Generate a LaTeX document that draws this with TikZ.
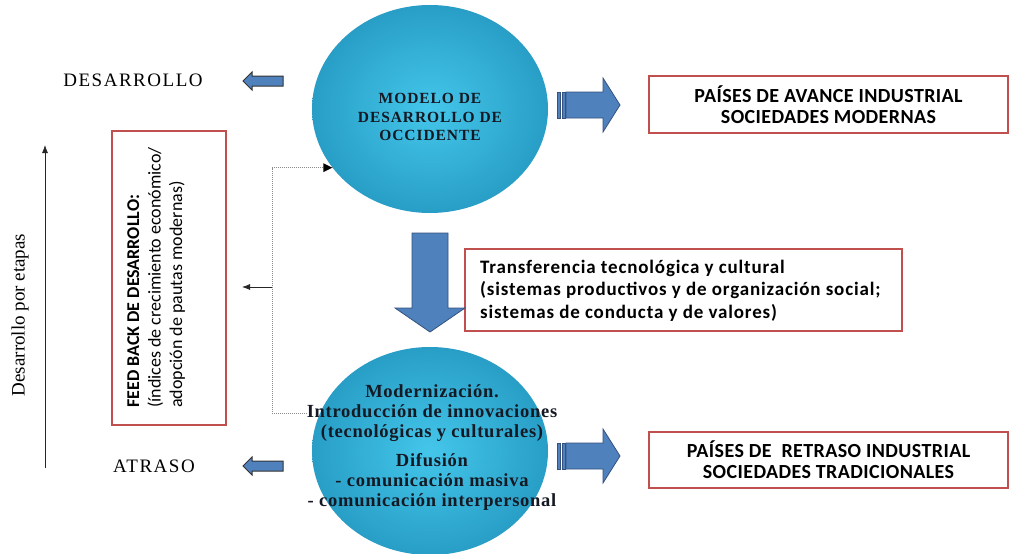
\documentclass[tikz,border=0pt]{standalone}
\usepackage{fontspec}
\setmainfont{Liberation Serif}
\newfontfamily\calfont{Carlito}
\usetikzlibrary{shapes.geometric,arrows.meta}
\definecolor{cyanA}{RGB}{68,198,234}
\definecolor{cyanB}{RGB}{40,158,198}
\definecolor{boxred}{RGB}{192,80,77}
\definecolor{blueA}{RGB}{79,129,189}
\definecolor{blueB}{RGB}{52,82,125}
\definecolor{txtdark}{RGB}{20,25,35}
\begin{document}
\begin{tikzpicture}[x=1pt,y=-1pt,
  bubble/.style={ellipse, minimum width=236pt, minimum height=208pt, inner sep=0pt,
    inner color=cyanA, outer color=cyanB},
  redframe/.style={draw=boxred, line width=2.6pt, fill=white, inner sep=0pt},
  blockarrow/.style={fill=blueA, draw=blueB, line width=0.8pt, line join=miter},
  smallarrow/.style={fill=blueA, draw=black!80, line width=1pt, line join=miter},
  circtxt/.style={align=center, inner sep=0pt, text=txtdark},
  lbl/.style={inner sep=0pt, font=\fontsize{19}{22}\selectfont\addfontfeature{LetterSpace=8}},
  dotline/.style={draw=black!45, line width=0.6pt, dash pattern=on 1pt off 1pt},
  thinarrow/.style={draw=black!85, line width=0.8pt, -{Latex[length=8pt,width=6pt]}}
]
\useasboundingbox (0,0) rectangle (1013,554);
\fill[white] (0,0) rectangle (1013,554);

% feedback connector (under circles)
\coordinate (fbstart) at (307,413);
\coordinate (fbmid) at (272,287);
\coordinate (fbout) at (242,287);

% circles
\node[bubble] (top) at (430,109) {};
\node[bubble] (bot) at (430,451) {};

\draw[dotline] (fbstart) -- ++(-35,0) |- (top.211);
\fill[black] (top.211) -- ++(-9,-4.5) -- ++(0,9) -- cycle;
\draw[thinarrow] (fbmid) -- (fbout);

\node[circtxt, font=\bfseries\fontsize{15.5}{18.5}\selectfont\addfontfeature{LetterSpace=6}] (toptxt) at (430,117)
  {MODELO DE\\DESARROLLO DE\\OCCIDENTE};
\node[circtxt, font=\bfseries\fontsize{18.5}{20}\selectfont\addfontfeature{LetterSpace=4}] (bottxt) at (432,448)
  {Modernización.\\Introducción de innovaciones\\(tecnológicas y culturales)\\[9pt]Difusión\\- comunicación masiva\\- comunicación interpersonal};

% red boxes
\node[redframe, minimum width=359pt, minimum height=57pt, align=center,
  font=\calfont\bfseries\fontsize{20}{21}\selectfont\addfontfeature{LetterSpace=2}] (avance) at (828.5,104.5)
  {PAÍSES DE AVANCE INDUSTRIAL\\SOCIEDADES MODERNAS};
\node[redframe, minimum width=359pt, minimum height=56pt, align=center,
  font=\calfont\bfseries\fontsize{20}{21}\selectfont\addfontfeature{LetterSpace=2}] (retraso) at (828.5,460)
  {PAÍSES DE \ RETRASO INDUSTRIAL\\SOCIEDADES TRADICIONALES};
\node[redframe, minimum width=437pt, minimum height=82pt] (transf) at (683.5,290) {};
\node[anchor=west, align=left, inner sep=0pt,
  font=\calfont\bfseries\fontsize{19}{22.5}\selectfont\addfontfeature{LetterSpace=4.5}] (transftxt) at (480,290.5)
  {Transferencia tecnológica y cultural\\(sistemas productivos y de organización social;\\sistemas de conducta y de valores)};
\node[redframe, minimum width=114pt, minimum height=294pt] (feed) at (169,278) {};
\node[rotate=90, anchor=north west, align=left, inner sep=0pt,
  font=\calfont\fontsize{18}{21.5}\selectfont] (feedtxt) at (127,408)
  {{\bfseries FEED BACK DE DESARROLLO:}\\(índices de crecimiento económico/\\adopción de pautas modernas)};

% left axis
\node[rotate=90, inner sep=0pt, font=\fontsize{19}{22}\selectfont] (etapas) at (20,315) {Desarrollo por etapas};
\coordinate (vbot) at (45,468);
\coordinate (vtop) at (45,145);
\draw[thinarrow] (vbot) -- (vtop);

\node[lbl] (des) at (133,80) {DESARROLLO};
\node[lbl] (atr) at (154,466) {ATRASO};

% small left arrows
\draw[smallarrow] (283,76) -- (252,76) -- (252,72) -- (243,81) -- (252,90) -- (252,86) -- (283,86) -- cycle;
\draw[smallarrow] (283,461) -- (252,461) -- (252,457) -- (243,466) -- (252,475) -- (252,471) -- (283,471) -- cycle;

% down arrow
\draw[blockarrow] (412,233) -- (448,233) -- (448,308) -- (465,308) -- (430,332) -- (395,308) -- (412,308) -- cycle;

% striped right arrows
\foreach \dy in {0,351}{
  \draw[blockarrow] (566,92+\dy) -- (603,92+\dy) -- (603,78+\dy) -- (620,105+\dy) -- (603,132+\dy) -- (603,118+\dy) -- (566,118+\dy) -- cycle;
  \draw[blockarrow] (557,92+\dy) rectangle (560,118+\dy);
  \draw[blockarrow] (562,92+\dy) rectangle (565,118+\dy);
}
\end{tikzpicture}
\end{document}
